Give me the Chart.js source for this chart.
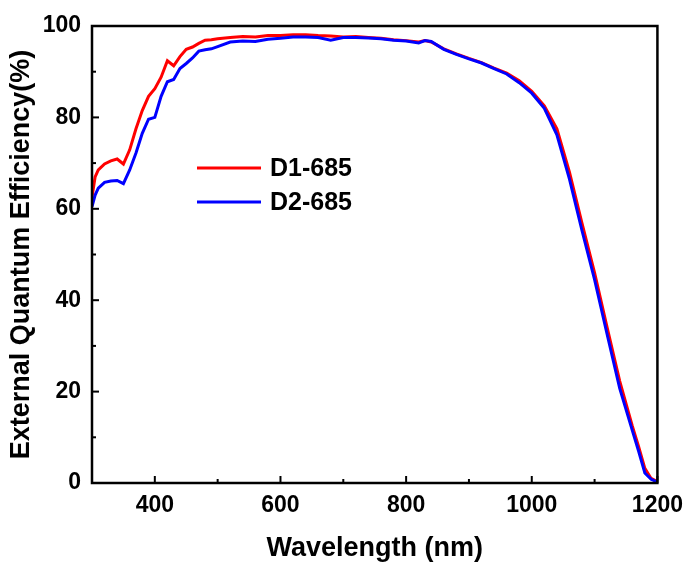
<!DOCTYPE html>
<html>
<head>
<meta charset="utf-8">
<script src="https://cdn.jsdelivr.net/npm/chart.js@4.4.1/dist/chart.umd.min.js"></script>
<style>
  html, body { margin: 0; padding: 0; background: #fff; }
  #wrap { width: 692px; height: 569px; }
</style>
</head>
<body>
<div id="wrap"><canvas id="eqeChart"></canvas></div>
<script>
// ===== DATA =====
const wavelengths = [300, 305, 310, 320, 330, 340, 350, 360, 370, 380, 390, 400, 410, 420, 430, 440, 450, 460, 470, 480,
  490, 500, 520, 540, 560, 580, 600, 620, 640, 660, 680, 700, 720, 740, 760, 780, 800, 820, 830, 840,
  860, 880, 900, 920, 940, 960, 980, 1000, 1020, 1040, 1060, 1080, 1100, 1120, 1140, 1160, 1170, 1180, 1190, 1200];

const eqeD1 = [62.5, 67.0, 68.5, 69.8, 70.5, 70.9, 69.8, 72.9, 77.5, 81.5, 84.6, 86.3, 88.8, 92.4, 91.3, 93.3, 94.9, 95.4, 96.2, 96.9,
  97.0, 97.2, 97.5, 97.7, 97.6, 97.9, 97.9, 98.1, 98.1, 97.9, 97.8, 97.6, 97.7, 97.5, 97.3, 97.0, 96.8, 96.5, 96.8, 96.5,
  95.0, 93.9, 92.9, 92.0, 90.8, 89.7, 88.0, 85.7, 82.5, 77.5, 68.0, 56.8, 46.0, 34.0, 22.3, 12.5, 8.0, 3.2, 1.0, 0.3];

const eqeD2 = [60.5, 63.0, 64.5, 65.8, 66.1, 66.2, 65.5, 68.5, 72.2, 76.5, 79.6, 80.0, 84.6, 87.8, 88.3, 90.7, 91.8, 93.0, 94.5, 94.8,
  95.0, 95.5, 96.5, 96.7, 96.6, 97.1, 97.3, 97.6, 97.6, 97.5, 96.9, 97.5, 97.5, 97.4, 97.2, 96.9, 96.7, 96.3, 96.8, 96.6,
  94.9, 93.8, 92.8, 91.9, 90.7, 89.5, 87.6, 85.3, 82.0, 76.2, 66.5, 55.2, 44.5, 32.5, 20.7, 11.5, 7.0, 2.2, 0.8, 0.2];

const xTicks = [400, 600, 800, 1000, 1200];
const xMinorTicks = [500, 700, 900, 1100];
const yTicks = [0, 20, 40, 60, 80, 100];
const yMinorTicks = [10, 30, 50, 70, 90];

const seriesNames = ['D1-685', 'D2-685'];
const seriesColors = ['#ff0000', '#0000ff'];

const FONT = '"Liberation Sans", Arial, sans-serif';

const toPoints = (vals) => wavelengths.map((w, i) => ({ x: w, y: vals[i] }));

// ===== FRAME + INWARD TICKS =====
const framePlugin = {
  id: 'frame',
  afterDatasetsDraw(chart) {
    const { ctx, chartArea: a, scales } = chart;
    ctx.save();
    ctx.strokeStyle = '#000';
    ctx.lineWidth = 2;
    const tick = (x1, y1, x2, y2) => {
      ctx.beginPath(); ctx.moveTo(x1, y1); ctx.lineTo(x2, y2); ctx.stroke();
    };
    xTicks.forEach(v => { const x = scales.x.getPixelForValue(v); tick(x, a.bottom, x, a.bottom - 7); });
    xMinorTicks.forEach(v => { const x = scales.x.getPixelForValue(v); tick(x, a.bottom, x, a.bottom - 4); });
    yTicks.forEach(v => { const y = scales.y.getPixelForValue(v); tick(a.left, y, a.left + 7, y); });
    yMinorTicks.forEach(v => { const y = scales.y.getPixelForValue(v); tick(a.left, y, a.left + 4, y); });
    ctx.lineWidth = 2.5;
    ctx.strokeRect(a.left, a.top, a.right - a.left, a.bottom - a.top);
    ctx.restore();
  }
};

// ===== LEGEND (inside plot) =====
const legendPlugin = {
  id: 'insideLegend',
  afterDatasetsDraw(chart) {
    const { ctx } = chart;
    ctx.save();
    ctx.font = 'bold 25px ' + FONT;
    ctx.textBaseline = 'middle';
    seriesNames.forEach((name, i) => {
      const y = 168 + i * 34;
      ctx.strokeStyle = seriesColors[i];
      ctx.lineWidth = 3;
      ctx.beginPath(); ctx.moveTo(197, y); ctx.lineTo(261, y); ctx.stroke();
      ctx.fillStyle = '#000';
      ctx.fillText(name, 270, y + 1);
    });
    ctx.restore();
  }
};

new Chart(document.getElementById('eqeChart'), {
  type: 'line',
  data: {
    datasets: [
      { label: seriesNames[0], data: toPoints(eqeD1), borderColor: seriesColors[0], borderWidth: 3, pointRadius: 0, tension: 0, order: 2 },
      { label: seriesNames[1], data: toPoints(eqeD2), borderColor: seriesColors[1], borderWidth: 3, pointRadius: 0, tension: 0, order: 1 }
    ]
  },
  options: {
    responsive: true,
    maintainAspectRatio: false,
    animation: false,
    layout: { padding: { left: 0, right: 34, top: 26, bottom: 0 } },
    plugins: { legend: { display: false }, tooltip: { enabled: false } },
    scales: {
      x: {
        type: 'linear',
        min: 300, max: 1200,
        afterBuildTicks: (s) => { s.ticks = xTicks.map(v => ({ value: v })); },
        afterFit: (s) => { s.height = 86; },
        grid: { display: false, drawTicks: false },
        border: { display: false },
        ticks: { color: '#000', padding: 9, callback: (v) => String(v), font: { family: FONT, size: 23, weight: 'bold' } },
        title: {
          display: true, text: 'Wavelength (nm)', color: '#000',
          padding: { top: 0, bottom: 4 },
          font: { family: FONT, size: 27, weight: 'bold' }
        }
      },
      y: {
        min: 0, max: 100,
        afterBuildTicks: (s) => { s.ticks = yTicks.map(v => ({ value: v })); },
        afterFit: (s) => { s.width = 92; },
        grid: { display: false, drawTicks: false },
        border: { display: false },
        ticks: { color: '#000', padding: 11, callback: (v) => String(v), font: { family: FONT, size: 23, weight: 'bold' } },
        title: {
          display: true, text: 'External Quantum Efficiency(%)', color: '#000',
          padding: { top: 5, bottom: 0 },
          font: { family: FONT, size: 27, weight: 'bold' }
        }
      }
    }
  },
  plugins: [framePlugin, legendPlugin]
});
</script>
</body>
</html>
